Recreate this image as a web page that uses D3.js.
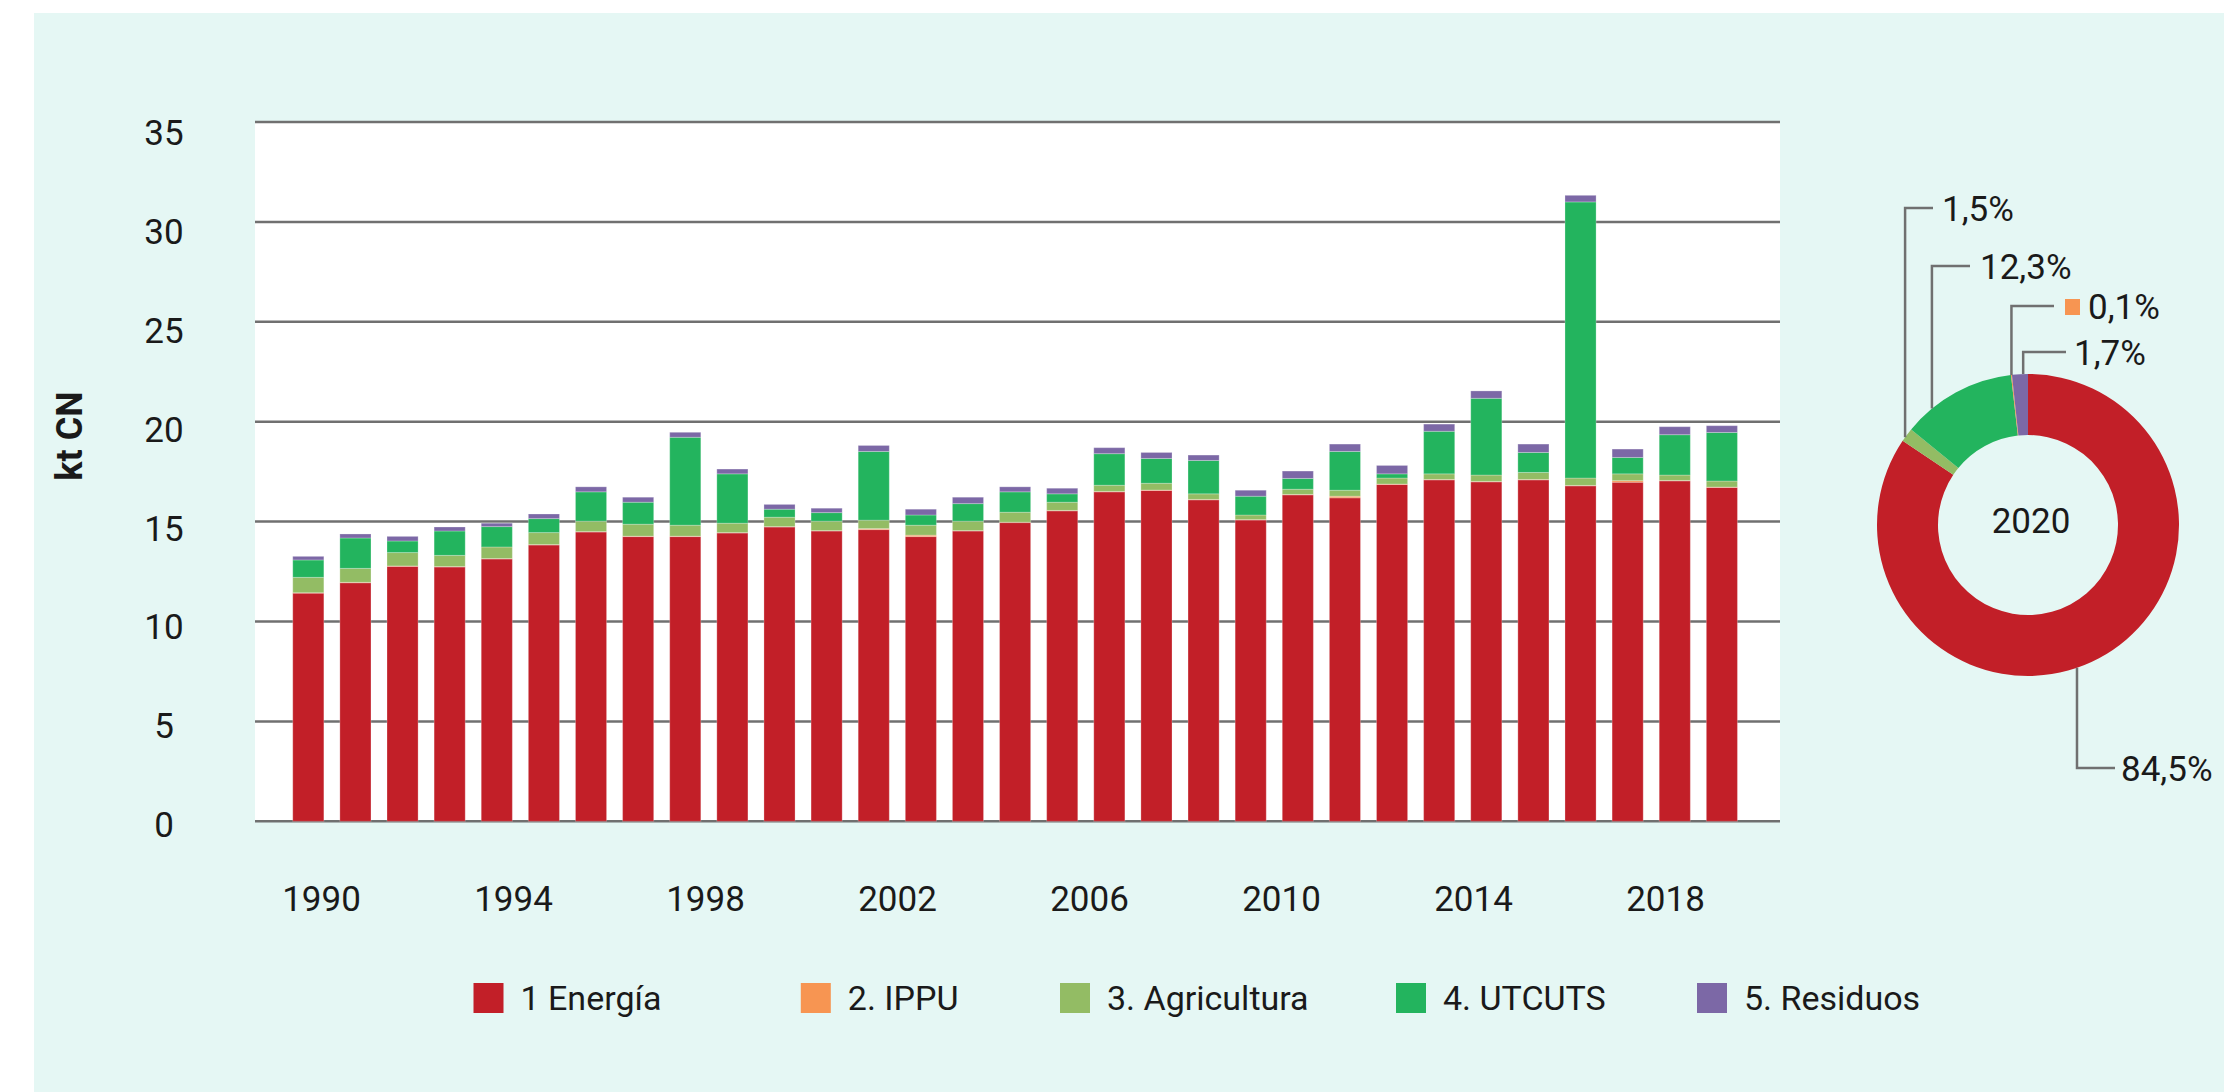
<!DOCTYPE html>
<html><head><meta charset="utf-8">
<script src="https://cdn.jsdelivr.net/npm/d3@7"></script>
<style>
body{margin:0;background:#fff}
svg{display:block}
text{font-family:Roboto,"Noto Sans",sans-serif;fill:#1a1a1a}
</style>
</head><body>
<svg id="c" width="2224" height="1092"></svg>
<script>
// ---------- DATA ----------
const years = [1990,1991,1992,1993,1994,1995,1996,1997,1998,1999,2000,2001,2002,2003,2004,2005,2006,2007,2008,2009,2010,2011,2012,2013,2014,2015,2016,2017,2018,2019,2020];
const categories = ["1 Energía","2. IPPU","3. Agricultura","4. UTCUTS","5. Residuos"];
const energia     = [11.42,11.94,12.76,12.73,13.13,13.83,14.48,14.25,14.25,14.43,14.73,14.53,14.60,14.25,14.53,14.95,15.54,16.49,16.56,16.09,15.08,16.34,16.19,16.86,17.09,16.99,17.09,16.79,16.97,17.04,16.71];
const ippu        = [0.02,0.02,0.02,0.02,0.02,0.02,0.02,0.02,0.02,0.02,0.02,0.02,0.05,0.07,0.02,0.02,0.02,0.02,0.02,0.02,0.02,0.02,0.08,0.02,0.02,0.02,0.02,0.02,0.08,0.02,0.02];
const agricultura = [0.77,0.70,0.67,0.56,0.58,0.60,0.52,0.60,0.55,0.47,0.47,0.47,0.42,0.50,0.47,0.50,0.41,0.31,0.34,0.28,0.23,0.26,0.30,0.30,0.28,0.32,0.35,0.37,0.34,0.27,0.30];
const utcuts      = [0.87,1.52,0.58,1.22,1.02,0.70,1.47,1.10,4.40,2.47,0.40,0.43,3.44,0.51,0.88,1.02,0.42,1.58,1.24,1.67,0.94,0.54,1.94,0.21,2.13,3.84,1.00,13.82,0.82,2.02,2.43];
const residuos    = [0.18,0.20,0.23,0.20,0.17,0.23,0.25,0.25,0.25,0.24,0.24,0.22,0.30,0.29,0.32,0.25,0.28,0.30,0.30,0.27,0.30,0.37,0.37,0.42,0.36,0.37,0.42,0.33,0.42,0.40,0.34];
const yTicks = [0,5,10,15,20,25,30,35];
const xTickYears = [1990,1994,1998,2002,2006,2010,2014,2018];
const yTitle = "kt CN";
// Donut (2020 shares, %)
const donutYear = "2020";
const donutShare  = [84.5, 0.1, 1.5, 12.3, 1.7];
const donutLabels = ["84,5%","0,1%","1,5%","12,3%","1,7%"];
const donutOrder  = [0, 2, 3, 1, 4]; // clockwise from 12 o'clock

// ---------- STYLE / LAYOUT ----------
const colors = ["#c21f28","#f79552","#93bc64","#23b45e","#7c68a6"];
const W = 2224, H = 1092;
const plot = {x0:255, x1:1780, y0:122, y1:821.3};
const legendX = [473.5, 800.8, 1060, 1396, 1697];
// leader-line layout per category index: fraction along slice, label centre y, elbow end x, text x
const leader = {
  0:{f:0.53, y:768, x2:2115, tx:2121},
  1:{f:0.5,  y:306, x2:2054, tx:2088, key:true},
  2:{f:0.3,  y:208, x2:1933, tx:1942},
  3:{f:0.253,y:266, x2:1970, tx:1980},
  4:{f:0.7,  y:352, x2:2066, tx:2074}
};

const svg = d3.select("#c");
svg.append("rect").attr("x",34).attr("y",13).attr("width",W-34).attr("height",H-13).attr("fill","#e5f7f4");
svg.append("rect").attr("x",plot.x0).attr("y",plot.y0).attr("width",plot.x1-plot.x0).attr("height",plot.y1-plot.y0).attr("fill","#fff");

// scales
const x = d3.scaleBand().domain(years).range([269.2,1761]).paddingInner(0.34).paddingOuter(0.5);
const y = d3.scaleLinear().domain([0,35]).range([plot.y1, plot.y0]);
const yLab = d3.scaleLinear().domain([0,35]).range([824,132]);
const xLab = d3.scaleLinear().domain([1990,2018]).range([321,1665]);

// gridlines
svg.append("g").selectAll("line").data(yTicks).join("line")
  .attr("x1",plot.x0).attr("x2",plot.x1)
  .attr("y1",d=>y(d)).attr("y2",d=>y(d))
  .attr("stroke","#707070").attr("stroke-width",2.5);

// stacked bars
const series = [energia, ippu, agricultura, utcuts, residuos];
const table = years.map((yr,i)=>{const o={year:yr}; categories.forEach((c,k)=>o[c]=series[k][i]); return o;});
const stack = d3.stack().keys(categories)(table);
svg.append("g").selectAll("g").data(stack).join("g")
  .attr("fill",(d,i)=>colors[i])
  .selectAll("rect").data(d=>d).join("rect")
  .attr("x",d=>x(d.data.year)).attr("width",x.bandwidth())
  .attr("y",d=>y(d[1])).attr("height",d=>y(d[0])-y(d[1]))
  .attr("stroke","#ffffff").attr("stroke-opacity",0.25).attr("stroke-width",1);

// y axis labels
const ya = svg.append("g").attr("transform","translate(164,0)")
  .call(d3.axisLeft(yLab).tickValues(yTicks).tickSize(0).tickPadding(0));
ya.select(".domain").remove();
ya.selectAll("text").attr("text-anchor","middle").attr("x",0).attr("dy","0.36em")
  .style("font-size","35px").style("font-family","Roboto,sans-serif").attr("fill","#1a1a1a");

// x axis labels
const xa = svg.append("g").attr("transform","translate(0,886)")
  .call(d3.axisBottom(xLab).tickValues(xTickYears).tickFormat(d3.format("d")).tickSize(0).tickPadding(0));
xa.select(".domain").remove();
xa.selectAll("text").attr("dy","0.71em").attr("y",0)
  .style("font-size","35px").style("font-family","Roboto,sans-serif").attr("fill","#1a1a1a");

// y title
svg.append("text").attr("transform","translate(82,436) rotate(-90)")
  .attr("text-anchor","middle").style("font-size","36px").style("font-weight","bold").text(yTitle);

// legend
const lg = svg.append("g").selectAll("g").data(categories).join("g")
  .attr("transform",(d,i)=>`translate(${legendX[i]},983)`);
lg.append("rect").attr("width",30).attr("height",30).attr("fill",(d,i)=>colors[i]);
lg.append("text").attr("x",47).attr("y",27).style("font-size","34px").text(d=>d);

// donut
const cx = 2028, cy = 525, rIn = 90, rOut = 151;
const pie = d3.pie().sort(null).value(d=>d.v);
const arcs = pie(donutOrder.map(i=>({i, v:donutShare[i]})));
const arc = d3.arc().innerRadius(rIn).outerRadius(rOut);
const dg = svg.append("g").attr("transform",`translate(${cx},${cy})`);
dg.selectAll("path").data(arcs).join("path").attr("d",arc).attr("fill",d=>colors[d.data.i]);
svg.append("text").attr("x",cx+3).attr("y",520).attr("dy","0.36em").attr("text-anchor","middle")
  .style("font-size","35px").text(donutYear);

// leader lines and labels
arcs.forEach(a=>{
  const L = leader[a.data.i];
  const ang = a.startAngle + L.f*(a.endAngle-a.startAngle);
  const px = cx + rOut*Math.sin(ang), py = cy - rOut*Math.cos(ang);
  svg.append("path").attr("d",`M${px},${py}V${L.y}H${L.x2}`)
    .attr("fill","none").attr("stroke","#707070").attr("stroke-width",2.5);
  if (L.key) svg.append("rect").attr("x",L.x2+11).attr("y",L.y-7).attr("width",15).attr("height",16).attr("fill",colors[a.data.i]);
  svg.append("text").attr("x",L.tx).attr("y",L.y).attr("dy","0.36em")
    .style("font-size","35px").text(donutLabels[a.data.i]);
});
</script>
</body></html>
